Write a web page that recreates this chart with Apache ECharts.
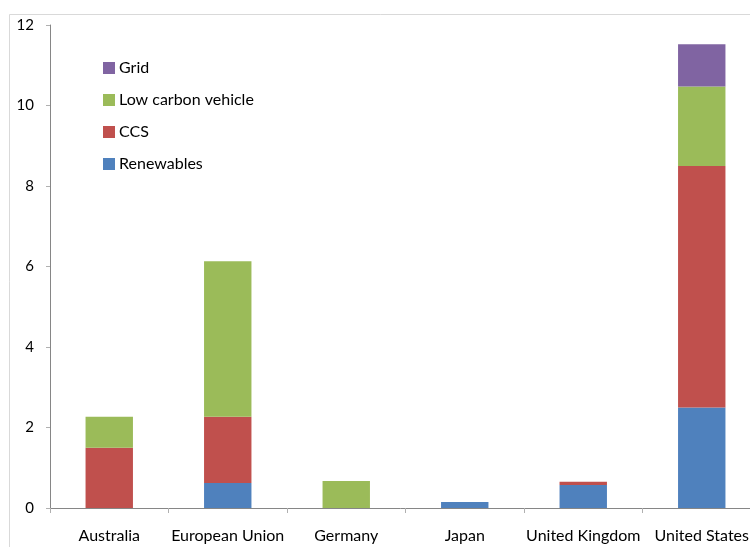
<!DOCTYPE html>
<html>
<head>
<meta charset="utf-8">
<script src="https://cdn.jsdelivr.net/npm/echarts@6/dist/echarts.min.js"></script>
<style>
  html, body { margin: 0; padding: 0; background: #ffffff; }
  #chart { width: 750px; height: 547px; }
</style>
</head>
<body>
<div id="chart"></div>
<script>
// Country categories along the x axis
const categories = ['Australia', 'European Union', 'Germany', 'Japan', 'United Kingdom', 'United States'];

// Stacked segment values per technology
const renewables = [0, 0.62, 0, 0.15, 0.57, 2.5];
const ccs = [1.5, 1.65, 0, 0, 0.08, 6.0];
const lowCarbonVehicle = [0.77, 3.86, 0.67, 0, 0, 1.97];
const grid = [0, 0, 0, 0, 0, 1.05];

// Y axis range and step
const yMin = 0;
const yMax = 12;
const yStep = 2;

const seriesDefs = [
  { name: 'Renewables', data: renewables, color: '#4F81BD' },
  { name: 'CCS', data: ccs, color: '#C0504D' },
  { name: 'Low carbon vehicle', data: lowCarbonVehicle, color: '#9BBB59' },
  { name: 'Grid', data: grid, color: '#8064A2' }
];

const fontFamily = 'Lato, "Open Sans", sans-serif';

const chart = echarts.init(document.getElementById('chart'), null, { renderer: 'canvas' });

chart.setOption({
  animation: false,
  backgroundColor: '#ffffff',
  graphic: [{
    type: 'rect',
    shape: { x: 9.5, y: 14.5, width: 900, height: 700 },
    style: { fill: 'none', stroke: '#d9d9d9', lineWidth: 1 },
    silent: true,
    z: -1
  }],
  // plot area runs past the right edge so the last category is cut off
  grid: { left: 50, width: 711, top: 25, bottom: 39, containLabel: false, outerBoundsMode: 'none' },
  legend: {
    orient: 'vertical',
    left: 98,
    top: 55,
    itemWidth: 12,
    itemHeight: 12,
    itemGap: 16,
    icon: 'rect',
    data: ['Grid', 'Low carbon vehicle', 'CCS', 'Renewables'],
    textStyle: { fontFamily: fontFamily, fontSize: 16, color: '#000000', padding: [0, 0, 0, -1] }
  },
  xAxis: {
    type: 'category',
    data: categories,
    axisLine: { lineStyle: { color: '#868686', width: 1 } },
    axisTick: { show: true, length: 5, lineStyle: { color: '#b0b0b0' } },
    axisLabel: { interval: 0, margin: 20, fontFamily: fontFamily, fontSize: 16, color: '#000000' }
  },
  yAxis: {
    type: 'value',
    min: yMin,
    max: yMax,
    interval: yStep,
    splitLine: { show: false },
    axisLine: { show: true, lineStyle: { color: '#868686', width: 1 } },
    axisTick: { show: true, length: 4, lineStyle: { color: '#b0b0b0' } },
    axisLabel: { margin: 16, fontFamily: fontFamily, fontSize: 15, color: '#000000' }
  },
  series: seriesDefs.map(s => ({
    name: s.name,
    type: 'bar',
    stack: 'total',
    barWidth: '40%',
    data: s.data,
    itemStyle: { color: s.color }
  }))
});
</script>
</body>
</html>
